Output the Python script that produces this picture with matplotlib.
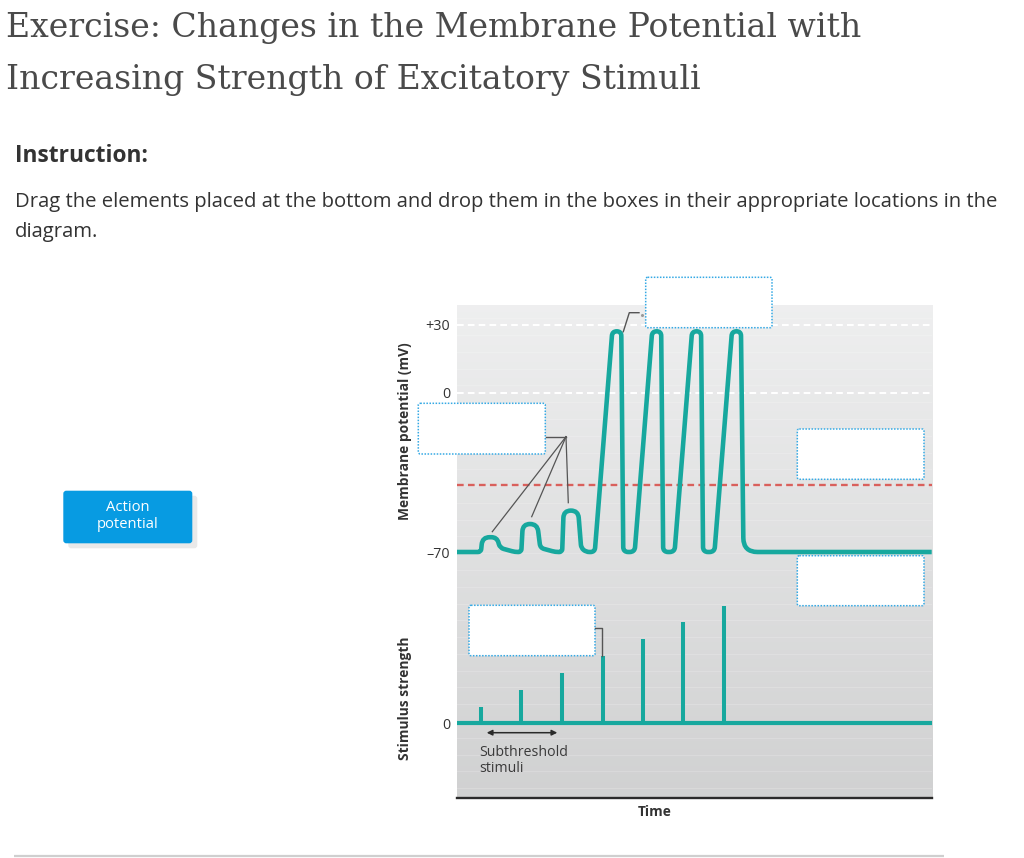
import numpy as np
import matplotlib
matplotlib.use('Agg')
import matplotlib.pyplot as plt
from matplotlib.path import Path
from matplotlib.patches import PathPatch, FancyBboxPatch, FancyArrowPatch

plt.rcParams['lines.scale_dashes'] = False

# ---------------- data ----------------
time_range = [0, 100]
stim_times = [5.1, 13.6, 22.2, 30.7, 39.2, 47.7, 56.2]
stim_strength = [1, 2, 3, 4, 5, 6, 7]
epsp_times = [5.1, 13.6, 22.2]
epsp_peak_mv = [-63.5, -57.7, -51.8]
spike_peak_times = [33.7, 42.1, 50.5, 58.9]
spike_peak_mv = [27, 27, 27, 27]
resting_mv = -70
threshold_mv = -40.5
mv_ticks = [30, 0, -70]
mv_tick_labels = ['+30', '0', '\u201370']
mv_grid = [30, 0]
stim_ticks = [0]
stim_tick_labels = ['0']

title_lines = ['Exercise: Changes in the Membrane Potential with',
               'Increasing Strength of Excitatory Stimuli']
instruction_head = 'Instruction:'
instruction_lines = ['Drag the elements placed at the bottom and drop them in the boxes in their appropriate locations in the',
                     'diagram.']
button_lines = ['Action', 'potential']
ylabel_mem = 'Membrane potential (mV)'
ylabel_stim = 'Stimulus strength'
xlabel_time = 'Time'
note_lines = ['Subthreshold', 'stimuli']

# ---------------- layout / style ----------------
W, H = 1024, 858
P_L, P_T, P_R, P_B = 456.7, 304.5, 931.7, 798.0
REST_Y, MV_PX = 552.0, 2.275
STIM0_Y, STIM_PX = 723.3, 16.8
TEAL = '#17a89e'
BLUE = '#35a9e4'
TXT = '#333333'
SANS = ['Open Sans', 'DejaVu Sans']

fig = plt.figure(figsize=(W / 100, H / 100), dpi=100)
fig.patch.set_facecolor('white')


def rect(l, t, r, b):
    return [l / W, 1 - b / H, (r - l) / W, (b - t) / H]


# background panel with vertical gradient
ax_bg = fig.add_axes(rect(P_L, P_T, P_R, P_B), zorder=0)
g = np.linspace(0.935, 0.818, 256)
grad = np.clip(np.stack([g, g + 0.002, g + 0.004], axis=-1).reshape(256, 1, 3), 0, 1)
ax_bg.imshow(grad, aspect='auto', extent=[0, 1, 0, 1], origin='upper')
for yy in np.arange(0.02, 1, 0.034):
    ax_bg.axhline(yy, color='white', lw=0.7, alpha=0.18)
ax_bg.set_xlim(0, 1)
ax_bg.set_ylim(0, 1)
ax_bg.axis('off')

# membrane potential axes
ax_mem = fig.add_axes(rect(P_L, P_T, P_R, P_B), zorder=2)
ax_mem.set_xlim(*time_range)
ax_mem.set_ylim(resting_mv - (P_B - REST_Y) / MV_PX, resting_mv + (REST_Y - P_T) / MV_PX)
ax_mem.patch.set_alpha(0)
for s in ax_mem.spines.values():
    s.set_visible(False)
ax_mem.set_xticks([])
ax_mem.set_yticks(mv_ticks, mv_tick_labels)
ax_mem.tick_params(axis='y', length=0, pad=4.6, labelsize=10.3, labelcolor=TXT)
for lab in ax_mem.get_yticklabels():
    lab.set_family(SANS)

for v in mv_grid:
    ax_mem.axhline(v, color='white', lw=1.5, dashes=(4.8, 3.0), zorder=1)
ax_mem.axhline(threshold_mv, color='#d9605c', lw=1.7, dashes=(4.8, 3.1), zorder=1)

# stimulus axes
ax_stim = fig.add_axes(rect(P_L, P_T, P_R, P_B), zorder=3)
ax_stim.set_xlim(*time_range)
ax_stim.set_ylim(-(P_B - STIM0_Y) / STIM_PX, (STIM0_Y - P_T) / STIM_PX)
ax_stim.patch.set_alpha(0)
for k, s in ax_stim.spines.items():
    s.set_visible(k == 'bottom')
ax_stim.spines['bottom'].set_color('#2a2a2a')
ax_stim.spines['bottom'].set_linewidth(1.7)
ax_stim.set_xticks([])
ax_stim.set_yticks(stim_ticks, stim_tick_labels)
ax_stim.tick_params(axis='y', length=0, pad=4.6, labelsize=10.3, labelcolor=TXT)
for lab in ax_stim.get_yticklabels():
    lab.set_family(SANS)

ax_stim.axhline(0, color=TEAL, lw=3.0, solid_capstyle='butt')
bars = ax_stim.vlines(stim_times, 0, stim_strength, colors=TEAL, lw=2.9)
bars.set_capstyle('butt')

# ---------------- membrane trace ----------------
px_per_t = (P_R - P_L) / (time_range[1] - time_range[0])


def pt(px):
    return px / px_per_t


pts, rad = [], []


def add(t, v, r):
    pts.append((t, v))
    rad.append(r)


add(time_range[0], resting_mv, 0)
n_e = len(epsp_times)
for i, (ts, vp) in enumerate(zip(epsp_times, epsp_peak_mv)):
    add(ts, resting_mv, 3)
    add(ts + pt(1.5), vp, 8)
    add(ts + pt(16), vp, 8)
    add(ts + pt(19), resting_mv + 1.8, 4)
    if i < n_e - 1:
        add(ts + pt(34), resting_mv, 6)
    else:
        add(ts + pt(24), resting_mv, 4)
n_s = len(spike_peak_times)
for k, (tp, vp) in enumerate(zip(spike_peak_times, spike_peak_mv)):
    add(tp - pt(22), resting_mv, 5)
    add(tp - pt(4.5), vp, 6)
    add(tp + pt(4.5), vp, 6)
    if k < n_s - 1:
        add(tp + pt(6.5), resting_mv, 5)
    else:
        add(tp + pt(7), resting_mv, 14)
add(time_range[1], resting_mv, 0)


def rounded(disp, radii):
    verts = [disp[0]]
    codes = [Path.MOVETO]
    for i in range(1, len(disp) - 1):
        A, P, B = disp[i - 1], disp[i], disp[i + 1]
        dA = np.hypot(*(A - P))
        dB = np.hypot(*(B - P))
        r = min(radii[i], dA / 2, dB / 2)
        if r <= 0:
            verts.append(P)
            codes.append(Path.LINETO)
            continue
        p1 = P + (A - P) / dA * r
        p2 = P + (B - P) / dB * r
        verts += [p1, P, p2]
        codes += [Path.LINETO, Path.CURVE3, Path.CURVE3]
    verts.append(disp[-1])
    codes.append(Path.LINETO)
    return np.array(verts), codes


disp = ax_mem.transData.transform(np.array(pts))
verts, codes = rounded(disp, rad)
data_verts = ax_mem.transData.inverted().transform(verts)
ax_mem.add_patch(PathPatch(Path(data_verts, codes), fill=False, edgecolor=TEAL,
                           lw=3.3, joinstyle='round', capstyle='butt', zorder=3))

# ---------------- overlay (page elements) ----------------
ax_o = fig.add_axes([0, 0, 1, 1], zorder=10)
ax_o.set_xlim(0, W)
ax_o.set_ylim(H, 0)
ax_o.axis('off')
ax_o.patch.set_alpha(0)
renderer = fig.canvas.get_renderer()


def fit_text(x, y, s, target_w, **kw):
    t = ax_o.text(x, y, s, fontsize=20, **kw)
    w = t.get_window_extent(renderer).width
    t.set_fontsize(20 * target_w / w)
    return t


# title
t1 = fit_text(6, 37, title_lines[0], 856, family=['DejaVu Serif'], color='#4a4a4a', va='baseline')
ax_o.text(6, 89, title_lines[1], family=['DejaVu Serif'], color='#4a4a4a', va='baseline',
          fontsize=t1.get_fontsize())

# instruction
fit_text(15, 162, instruction_head, 133, family=SANS, weight='bold', color=TXT, va='baseline')
b1 = fit_text(15, 207, instruction_lines[0], 981, family=SANS, color=TXT, va='baseline')
ax_o.text(15, 237, instruction_lines[1], family=SANS, color=TXT, va='baseline',
          fontsize=b1.get_fontsize())

# button with shadow
ax_o.add_patch(FancyBboxPatch((68.3, 495.7), 129, 52.6, boxstyle='round,pad=0,rounding_size=3',
                              fc='#e9e9e9', ec='none', zorder=1))
ax_o.add_patch(FancyBboxPatch((63.3, 490.7), 129, 52.6, boxstyle='round,pad=0,rounding_size=3',
                              fc='#079be2', ec='none', zorder=2))
ax_o.text(128, 507.5, button_lines[0], ha='center', va='center', color='white',
          fontsize=10.6, family=SANS, zorder=3)
ax_o.text(128, 525, button_lines[1], ha='center', va='center', color='white',
          fontsize=10.6, family=SANS, zorder=3)

# axis titles (rotated)
ym = fit_text(405, 431, ylabel_mem, 177, family=SANS, weight='bold', color=TXT,
              ha='center', va='center')
ym.set_rotation(90)
ax_o.text(405, 698, ylabel_stim, family=SANS, weight='bold', color=TXT, ha='center',
          va='center', rotation=90, fontsize=ym.get_fontsize())
ax_o.text(655, 812, xlabel_time, family=SANS, weight='bold', color=TXT, ha='center',
          va='center', fontsize=ym.get_fontsize())

# subthreshold note + arrow
nt = fit_text(479, 752, note_lines[0], 88, family=SANS, color='#3a3a3a', va='center')
ax_o.text(479, 769, note_lines[1], family=SANS, color='#3a3a3a', va='center',
          fontsize=nt.get_fontsize())
ax_o.add_patch(FancyArrowPatch((486.7, 732.7), (557.3, 732.7), arrowstyle='<|-|>',
                               mutation_scale=8, lw=1.1, color='#2a2a2a', shrinkA=0, shrinkB=0))

# drop-target boxes
boxes = [(645.7, 277.3, 772, 327.7), (418.3, 403.3, 545.3, 454),
         (797.3, 429, 924, 479.3), (797.3, 555.7, 924, 605.7), (469, 605.3, 595, 655.7)]
for (l, t, r, b) in boxes:
    ax_o.add_patch(FancyBboxPatch((l, t), r - l, b - t, boxstyle='round,pad=0,rounding_size=2',
                                  fc='white', ec=BLUE, lw=1.1, ls=(0, (1.1, 1.1)), zorder=4))

# connector lines
CON = '#555555'
ax_o.plot([623.3, 629.3, 639], [331.7, 312.7, 312.7], color=CON, lw=1.0, zorder=5)
ax_o.plot([641.7], [314.5], 'o', ms=1.2, color='#999999', zorder=5)
ax_o.plot([545.7, 566], [436.7, 436.7], color=CON, lw=1.0, zorder=5)
for ex, ey in [(492.3, 531.7), (531.7, 516.7), (568.3, 502.7)]:
    ax_o.plot([566, ex], [436.7, ey], color=CON, lw=0.9, zorder=5)
ax_o.plot([595, 602.3, 602.3], [628.3, 628.3, 655.7], color=CON, lw=1.0, zorder=5)

# page separator
ax_o.plot([14, 944], [856, 856], color='#cfcfcf', lw=1.6, solid_capstyle='butt')

fig.savefig('out.png', dpi=100, facecolor='white')
